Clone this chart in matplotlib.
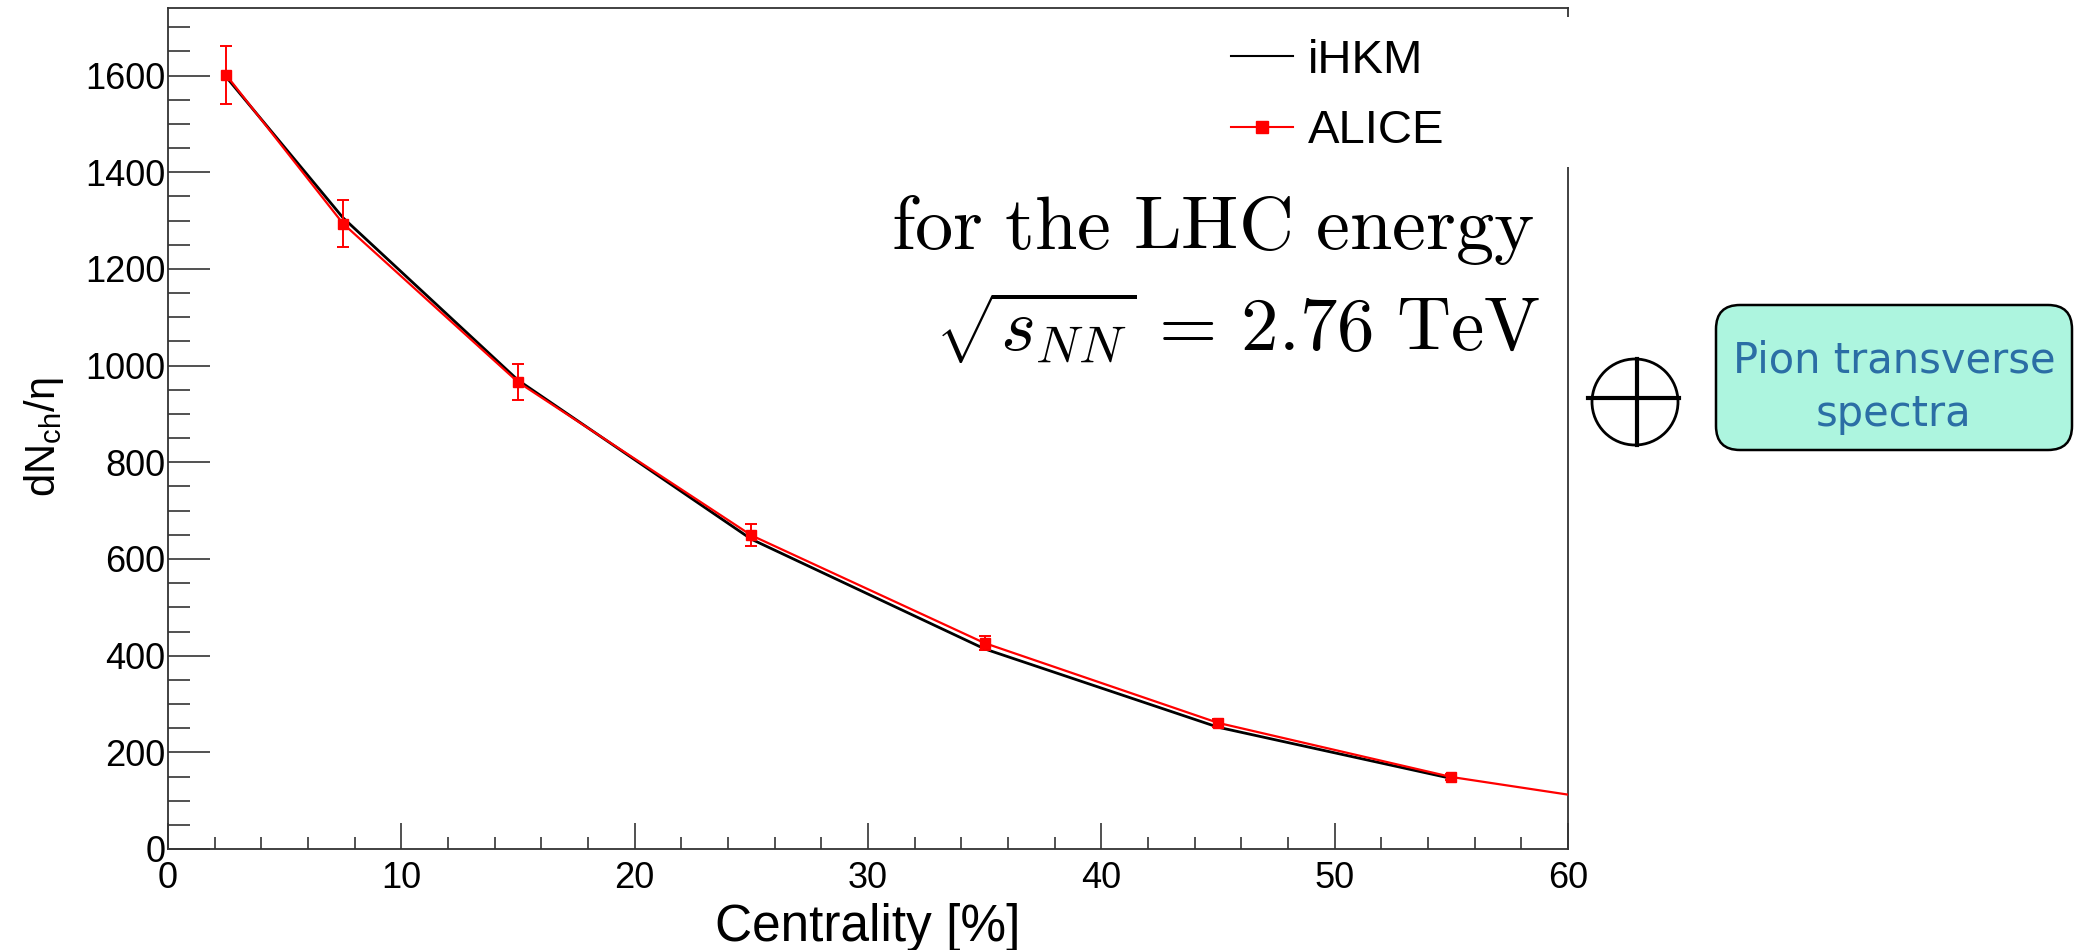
import matplotlib.pyplot as plt
from matplotlib.patches import Rectangle, Ellipse, FancyBboxPatch
from matplotlib.lines import Line2D
from matplotlib.ticker import MultipleLocator

# ALICE dN/deta vs centrality (bin centres), with errors
centrality = [2.5, 7.5, 15, 25, 35, 45, 55, 65, 75]
alice = [1601, 1294, 966, 649, 426, 261, 149, 76, 35]
alice_err = [60, 49, 37, 23, 15, 9, 6, 4, 2]

# iHKM model
ihkm_x = [2.5, 7.5, 15, 25, 35, 45, 55]
ihkm = [1597, 1306, 970, 641, 414, 252, 146]

plt.rcParams['font.family'] = ['Liberation Sans', 'DejaVu Sans']

W, H = 2078, 950
fig = plt.figure(figsize=(W / 100, H / 100), dpi=100)
ax = fig.add_axes([168 / W, 1 - 849 / H, 1400 / W, 841 / H])

ax.plot(ihkm_x, ihkm, color='black', lw=2, zorder=3)
ax.errorbar(centrality, alice, yerr=alice_err, color='red', lw=1.6,
            marker='s', ms=7, capsize=4, elinewidth=1.4, capthick=1.4, zorder=4)

ax.set_xlim(0, 60)
ax.set_ylim(0, 1740)
ax.xaxis.set_major_locator(MultipleLocator(10))
ax.xaxis.set_minor_locator(MultipleLocator(2))
ax.yaxis.set_major_locator(MultipleLocator(200))
ax.yaxis.set_minor_locator(MultipleLocator(50))
ax.tick_params(axis='both', which='both', direction='in', top=False, right=False,
               labelsize=26, width=1.1, color='#222222')
ax.tick_params(axis='y', which='major', length=30, pad=2)
ax.tick_params(axis='y', which='minor', length=16)
ax.tick_params(axis='x', which='major', length=19, pad=9)
ax.tick_params(axis='x', which='minor', length=9)
for s in ax.spines.values():
    s.set_linewidth(1.3)
    s.set_color('#333333')

ax.set_xlabel('Centrality [%]', fontsize=37, labelpad=5)
ax.set_ylabel(r'dN$_\mathregular{ch}$/η', fontsize=30)
ax.yaxis.set_label_coords(-0.073, 0.49)

# overlay in pixel coordinates for the decorations
ov = fig.add_axes([0, 0, 1, 1])
ov.set_xlim(0, W)
ov.set_ylim(H, 0)
ov.axis('off')

# white legend area hides part of the right frame
ov.add_patch(Rectangle((1200, 17), 390, 150, facecolor='white', edgecolor='none'))
handles = [Line2D([], [], color='black', lw=1.5),
           Line2D([], [], color='red', lw=1.5, marker='s', ms=8)]
ov.legend(handles, ['iHKM', 'ALICE'], loc='upper left', bbox_to_anchor=(1231 / W, 1 - 39 / H),
          bbox_transform=fig.transFigure, frameon=False, fontsize=34, handlelength=1.32,
          handletextpad=0.3, labelspacing=0.56, borderpad=0, borderaxespad=0)

ov.text(1535, 249, r'$\mathrm{for\ the\ LHC\ energy}$', fontsize=55, ha='right', va='baseline',
        math_fontfamily='cm')
ov.text(1540, 351, r'$\sqrt{s_{NN}}\,=\,2.76\ \mathrm{TeV}$', fontsize=54, ha='right',
        va='baseline', math_fontfamily='cm')

# circle-plus sign
ov.add_patch(Ellipse((1635, 402), 86, 86, facecolor='none', edgecolor='black', lw=2))
ov.plot([1588, 1679], [398, 398], color='black', lw=3)
ov.plot([1637, 1637], [359, 445], color='black', lw=3)

# rounded box
ov.add_patch(FancyBboxPatch((1716, 305), 356, 145, boxstyle='round,pad=0,rounding_size=24',
                            facecolor='#adf5df', edgecolor='black', lw=1.8))
ov.text(1894, 387, 'Pion transverse\nspectra', fontsize=30, color='#2b6ea5', ha='center',
        va='center', family='DejaVu Sans', linespacing=1.35)

fig.savefig('out.png', dpi=100)
